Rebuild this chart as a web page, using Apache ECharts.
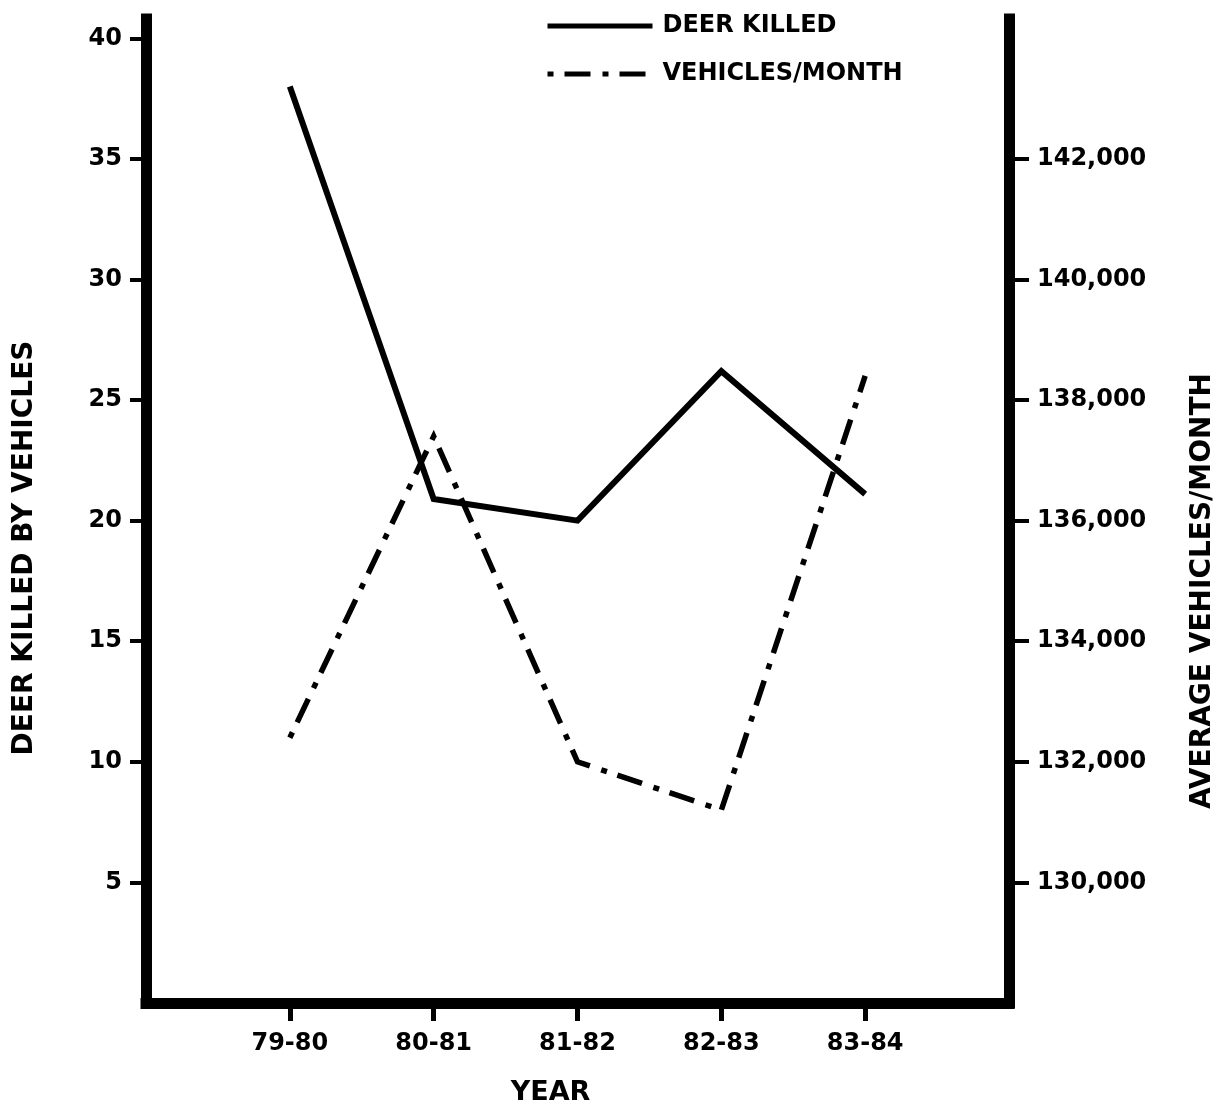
<!DOCTYPE html>
<html>
<head>
<meta charset="utf-8">
<script src="https://cdn.jsdelivr.net/npm/echarts@6/dist/echarts.min.js"></script>
<style>
html,body{margin:0;padding:0;background:#fff;}
#chart{width:1221px;height:1107px;}
</style>
</head>
<body>
<div id="chart"></div>
<script>
const years = ['79-80', '80-81', '81-82', '82-83', '83-84'];
const deerKilled = [38, 20.9, 20, 26.2, 21.1];
const vehiclesPerMonth = [132400, 137400, 132000, 131200, 138400];
const leftTicks = [5, 10, 15, 20, 25, 30, 35, 40];
const rightTicks = [130000, 132000, 134000, 136000, 138000, 140000, 142000];

const FONT = 'DejaVu Sans';
const DASH = [6, 11, 26, 12];
const axisCats = [''].concat(years, ['']);
const pad = v => [null].concat(v, [null]);

const chart = echarts.init(document.getElementById('chart'), null, {renderer: 'canvas'});
chart.setOption({
  animation: false,
  backgroundColor: '#fff',
  color: ['#000', '#000'],
  textStyle: {fontFamily: FONT, color: '#000'},
  grid: {left: 146, right: 212, top: 19, bottom: 104, containLabel: false, outerBoundsMode: 'none'},
  legend: {
    orient: 'vertical',
    left: 540,
    top: 9,
    itemWidth: 105,
    itemHeight: 24,
    itemGap: 24,
    itemStyle: {opacity: 0},
    data: [
      {name: 'DEER KILLED', lineStyle: {color: '#000', width: 5, type: 'solid'}},
      {name: 'VEHICLES/MONTH', lineStyle: {color: '#000', width: 5, type: DASH}}
    ],
    textStyle: {fontFamily: FONT, fontSize: 24, fontWeight: 'bold', color: '#000', padding: [0, 0, 0, 5]}
  },
  xAxis: {
    type: 'category',
    data: axisCats,
    boundaryGap: false,
    name: 'YEAR',
    nameLocation: 'middle',
    nameGap: 76,
    nameTextStyle: {fontFamily: FONT, fontSize: 27, fontWeight: 'bold', color: '#000', padding: [0, 54, 0, 0]},
    axisLine: {onZero: false, lineStyle: {color: '#000', width: 11, cap: 'square'}},
    axisTick: {length: 18, lineStyle: {color: '#000', width: 5}, interval: (i) => i >= 1 && i <= years.length},
    axisLabel: {fontFamily: FONT, fontSize: 24, fontWeight: 'bold', color: '#000', margin: 29, interval: 0},
    splitLine: {show: false}
  },
  yAxis: [
    {
      type: 'value',
      position: 'left',
      min: 0,
      max: 40.8,
      interval: 5,
      name: 'DEER KILLED BY VEHICLES',
      nameLocation: 'middle',
      nameRotate: 90,
      nameGap: 107,
      nameTextStyle: {fontFamily: FONT, fontSize: 28, fontWeight: 'bold', color: '#000', padding: [0, 74, 0, 0]},
      axisLine: {show: true, lineStyle: {color: '#000', width: 11, cap: 'square'}},
      axisTick: {show: true, length: 16, customValues: leftTicks, lineStyle: {color: '#000', width: 4}},
      axisLabel: {fontFamily: FONT, fontSize: 24, fontWeight: 'bold', color: '#000', margin: 24, customValues: leftTicks},
      splitLine: {show: false}
    },
    {
      type: 'value',
      position: 'right',
      min: 128000,
      max: 128000 + 40.8 * 400,
      interval: 2000,
      name: 'AVERAGE VEHICLES/MONTH',
      nameLocation: 'middle',
      nameRotate: 90,
      nameGap: 180,
      nameTextStyle: {fontFamily: FONT, fontSize: 28, fontWeight: 'bold', color: '#000', padding: [0, 160, 0, 0]},
      axisLine: {show: true, lineStyle: {color: '#000', width: 11, cap: 'square'}},
      axisTick: {show: true, length: 20, customValues: rightTicks, lineStyle: {color: '#000', width: 4}},
      axisLabel: {
        fontFamily: FONT, fontSize: 24, fontWeight: 'bold', color: '#000', margin: 28, customValues: rightTicks,
        formatter: v => v.toLocaleString('en-US')
      },
      splitLine: {show: false}
    }
  ],
  series: [
    {
      name: 'DEER KILLED',
      type: 'line',
      yAxisIndex: 0,
      data: pad(deerKilled),
      symbol: 'none',
      itemStyle: {color: '#000'},
      lineStyle: {color: '#000', width: 6, cap: 'butt', join: 'miter'},
      z: 3
    },
    {
      name: 'VEHICLES/MONTH',
      type: 'line',
      yAxisIndex: 1,
      data: pad(vehiclesPerMonth),
      symbol: 'none',
      itemStyle: {color: '#000'},
      lineStyle: {color: '#000', width: 5.5, type: DASH, cap: 'butt', join: 'miter'},
      z: 2
    }
  ]
});
</script>
</body>
</html>
